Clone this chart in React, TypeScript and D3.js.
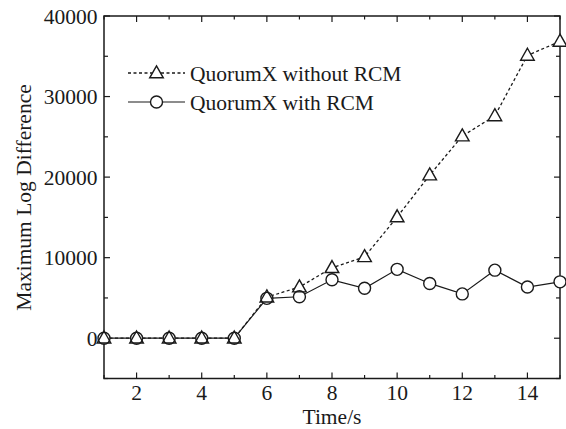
import React from "react";
import * as d3 from "d3";

const times = [1, 2, 3, 4, 5, 6, 7, 8, 9, 10, 11, 12, 13, 14, 15];
const withoutRCM = [0, 0, 0, 0, 0, 5100, 6350, 8750, 10100, 15050, 20250, 25100, 27600, 35100, 36850];
const withRCM = [0, 0, 0, 0, 0, 4950, 5150, 7250, 6200, 8550, 6800, 5500, 8450, 6350, 7000];
const xTickLabels = [2, 4, 6, 8, 10, 12, 14];
const yTickLabels = [0, 10000, 20000, 30000, 40000];
const legendLabels = ["QuorumX without RCM", "QuorumX with RCM"];

const W = 566, H = 429;
const L = 104, R = 560, T = 16, B = 378.5;
const FONT = "'Liberation Serif', 'Times New Roman', serif";
const INK = "#1a1a1a";
const FS = 21.5;

export default function App() {
  const x = d3.scaleLinear().domain([1, 15]).range([L, R]);
  const y = d3.scaleLinear().domain([-5000, 40000]).range([B, T]);
  const line = d3.line<number>().x((_, i) => x(times[i])).y((d) => y(d));

  const triPath = (cx: number, cy: number) => {
    const s = 6.8, h = 12;
    return `M${cx},${cy - h * 0.6}L${cx + s},${cy + h * 0.4}L${cx - s},${cy + h * 0.4}Z`;
  };
  const circ = (cx: number, cy: number, fill: string, stroke: string, k: string) => (
    <circle key={k} cx={cx} cy={cy} r={6} fill={fill} stroke={stroke} strokeWidth={1.4} />
  );
  const tri = (cx: number, cy: number, fill: string, stroke: string, k: string) => (
    <path key={k} d={triPath(cx, cy)} fill={fill} stroke={stroke} strokeWidth={1.4} strokeLinejoin="miter" />
  );

  const xMinor = d3.range(1, 16);
  const yMinor = d3.range(-5000, 40001, 5000);

  return (
    <svg width={W} height={H} style={{ position: "absolute", left: 0, top: 0, background: "#fff" }}>
      <rect x={0} y={0} width={W} height={H} fill="#fff" />
      <g stroke={INK} strokeWidth={1.2}>
        {xMinor.map((v) => {
          const major = v % 2 === 0;
          const len = major ? 6 : 3.5;
          return (
            <g key={"xt" + v}>
              <line x1={x(v)} x2={x(v)} y1={B} y2={B - len} />
              <line x1={x(v)} x2={x(v)} y1={T} y2={T + len} />
            </g>
          );
        })}
        {yMinor.map((v) => {
          const major = v % 10000 === 0;
          const len = major ? 6 : 4;
          return (
            <g key={"yt" + v}>
              <line x1={L} x2={L + len} y1={y(v)} y2={y(v)} />
              <line x1={R} x2={R - len} y1={y(v)} y2={y(v)} />
            </g>
          );
        })}
      </g>
      <rect x={L} y={T} width={R - L} height={B - T} fill="none" stroke={INK} strokeWidth={1.5} />
      <g fontFamily={FONT} fontSize={FS} fill={INK}>
        {xTickLabels.map((v) => (
          <text key={"xl" + v} x={x(v)} y={400} textAnchor="middle">{v}</text>
        ))}
        {yTickLabels.map((v) => (
          <text key={"yl" + v} x={97.5} y={y(v) + 7.5} textAnchor="end">{v}</text>
        ))}
        <text x={332} y={424} textAnchor="middle">Time/s</text>
        <text transform={`translate(31,${(85 + 310) / 2}) rotate(-90)`} textAnchor="middle">Maximum Log Difference</text>
      </g>
      <path d={line(withRCM) || ""} fill="none" stroke={INK} strokeWidth={1.2} />
      <path d={line(withoutRCM) || ""} fill="none" stroke={INK} strokeWidth={1.3} strokeDasharray="3,2.5" />
      {withRCM.map((v, i) => circ(x(times[i]), y(v), "#fff", "none", "cf" + i))}
      {withoutRCM.map((v, i) => tri(x(times[i]), y(v), "#fff", "none", "tf" + i))}
      {withRCM.map((v, i) => circ(x(times[i]), y(v), "none", INK, "co" + i))}
      {withoutRCM.map((v, i) => tri(x(times[i]), y(v), "none", INK, "to" + i))}
      <g>
        <line x1={128} x2={185} y1={73} y2={73} stroke={INK} strokeWidth={1.3} strokeDasharray="3,2.5" />
        {tri(156.5, 73, "#fff", INK, "lt")}
        <line x1={128} x2={185} y1={102} y2={102} stroke={INK} strokeWidth={1.2} />
        {circ(156.5, 102, "#fff", INK, "lc")}
        <text x={190} y={80.5} fontFamily={FONT} fontSize={FS} fill={INK}>{legendLabels[0]}</text>
        <text x={190} y={110} fontFamily={FONT} fontSize={FS} fill={INK}>{legendLabels[1]}</text>
      </g>
    </svg>
  );
}
